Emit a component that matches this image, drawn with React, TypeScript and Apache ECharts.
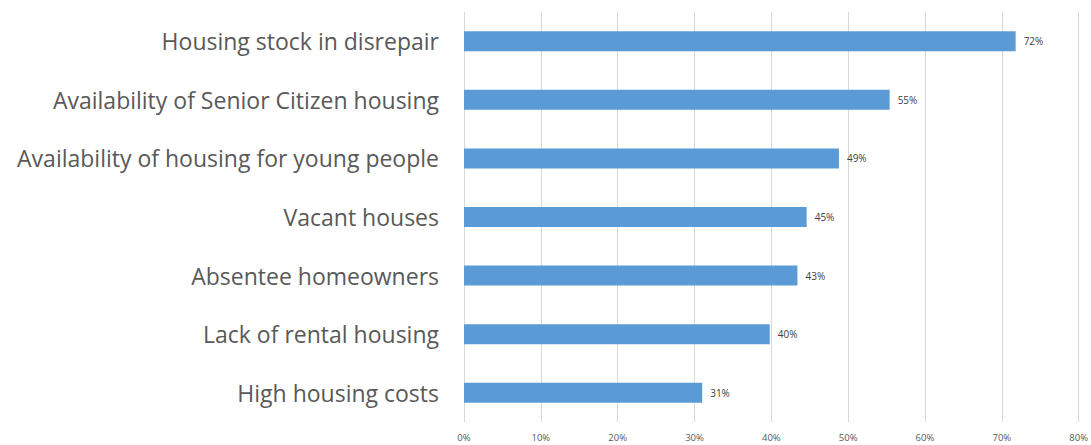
import React, { useEffect, useRef } from "react";
import * as echarts from "echarts";

const categories = [
  "Housing stock in disrepair",
  "Availability of Senior Citizen housing",
  "Availability of housing for young people",
  "Vacant houses",
  "Absentee homeowners",
  "Lack of rental housing",
  "High housing costs",
];
const values = [71.8, 55.4, 48.8, 44.6, 43.4, 39.8, 31.0];
const labels = ["72%", "55%", "49%", "45%", "43%", "40%", "31%"];

export default function App() {
  const ref = useRef<HTMLDivElement>(null);
  useEffect(() => {
    const chart = echarts.init(ref.current!, null, { renderer: "svg" });
    const cats = [...categories].reverse();
    const vals = [...values].reverse();
    const labs = [...labels].reverse();
    chart.setOption({
      animation: false,
      grid: { left: 464, right: 11, top: 12, bottom: 23, containLabel: false },
      xAxis: {
        type: "value",
        min: 0,
        max: 80,
        interval: 10,
        axisLine: { show: false },
        axisTick: { show: false },
        splitLine: { show: true, lineStyle: { color: "#d9d9d9", width: 1 } },
        axisLabel: {
          formatter: "{value}%",
          color: "#595959",
          fontSize: 9.5,
          fontFamily: "Open Sans",
          margin: 10,
          showMaxLabel: true,
        },
      },
      yAxis: {
        type: "category",
        data: cats,
        axisLine: { show: false },
        axisTick: { show: false },
        axisLabel: {
          color: "#595959",
          fontSize: 23,
          fontFamily: "Open Sans",
          margin: 25,
        },
      },
      series: [
        {
          type: "bar",
          data: vals,
          barWidth: 20,
          itemStyle: { color: "#5b9bd5" },
          label: {
            show: true,
            position: "right",
            distance: 8,
            color: "#404040",
            fontSize: 10,
            fontFamily: "Open Sans",
            formatter: (p: any) => labs[p.dataIndex],
          },
        },
      ],
    });
    return () => chart.dispose();
  }, []);
  return (
    <div
      ref={ref}
      style={{ position: "absolute", top: 0, left: 0, width: 1091, height: 445 }}
    />
  );
}
